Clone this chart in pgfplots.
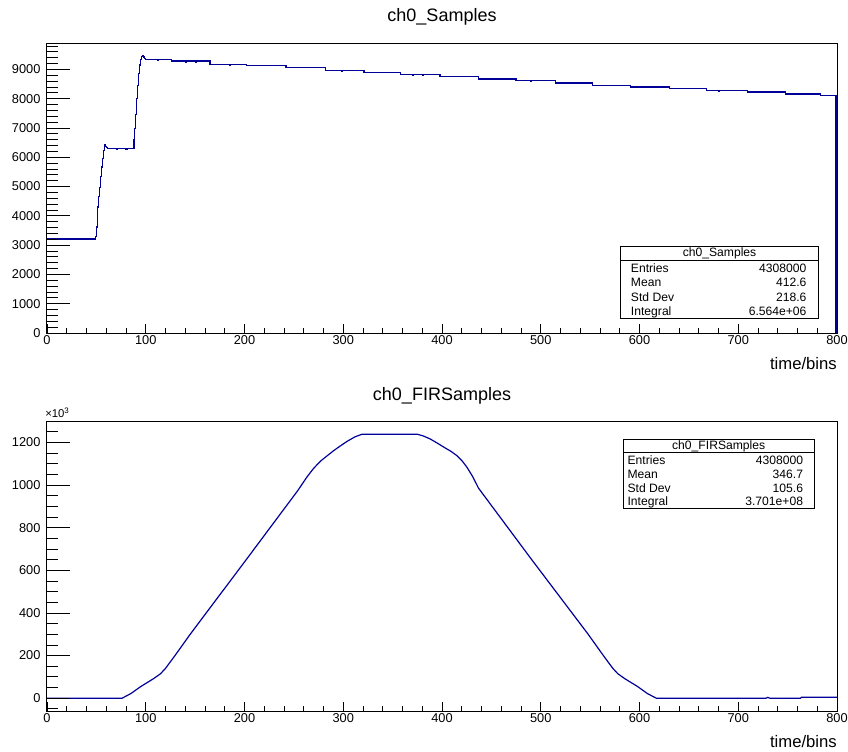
\documentclass[border=0pt]{standalone}
\usepackage{fontspec}
\setmainfont{Liberation Sans}
\usepackage{pgfplots}
\usepackage{pgfplotstable}
\pgfplotsset{compat=1.18}
\definecolor{histblue}{RGB}{0,0,153}

% ch0 raw samples: bin start, content (histogram steps)
\pgfplotstableread{
x y
0 3210
49 3300
50 3620
51 4300
52 4650
53 4980
54 5330
55 5670
56 5950
57 6230
58 6420
59 6380
60 6330
61 6300
70 6280
71 6300
80 6280
81 6300
88 6600
89 6970
90 7450
91 8000
92 8450
93 8850
94 9150
95 9330
96 9430
97 9480
98 9420
99 9360
100 9341
112 9320
113 9341
126 9283
140 9255
141 9283
150 9255
151 9283
165 9170
185 9150
186 9170
202 9126
242 9058
282 8966
298 8945
299 8966
321 8887
358 8819
370 8800
371 8819
380 8800
381 8819
398 8761
420 8745
421 8761
437 8670
475 8613
490 8595
491 8613
515 8533
530 8515
531 8533
552 8454
591 8396
600 8380
601 8396
630 8341
668 8283
680 8265
681 8283
709 8225
740 8210
741 8225
748 8157
783 8112
799 0
800 0
}\samplestable

% ch0 FIR-filtered samples (in units of 10^3)
\pgfplotstableread{
x y
0 0
76 0
85 22
95 55
101 72
108 92
115 115
120 140
128 190
135 235
145 300
200 639
254 974
263 1036
270 1078
277 1112
284 1138
290 1160
297 1183
304 1205
312 1226
319 1238
375 1238
381 1230
388 1216
395 1197
402 1177
409 1158
415 1138
420 1115
425 1085
431 1040
437 985
490 655
548 300
558 235
565 190
573 140
578 115
585 92
592 72
598 55
608 22
617 0
728 0
730 4
732 0
763 0
764 5
800 5
}\firtable

\pgfplotsset{
  rootaxis/.style={
    scale only axis, width=592.5pt, height=217.5pt,
    xmin=0, xmax=800,
    axis line style={black, line width=0.75pt},
    tick align=inside,
    tick pos=left,
    tick style={black, line width=0.6pt},
    /pgf/number format/assume math mode=true,
    /pgf/number format/set thousands separator={},
    scaled ticks=false,
    ticklabel style={font=\fontsize{9.6pt}{11pt}\selectfont},
  },
  % frame, x ticks and every tick label
  xtickpart/.style={
    axis on top,
    xtick={0,100,...,800},
    minor xtick={0,20,...,800},
    major tick length=6.75pt, minor tick length=3.4pt,
    ytick style={draw=none},
    xticklabel style={anchor=north, inner sep=0pt, yshift=-1.6pt},
    yticklabel style={anchor=east, inner sep=0pt, xshift=-4.7pt},
  },
  % longer y ticks on the left only
  ytickpart/.style={
    xmajorticks=false, xminorticks=false,
    xticklabels={}, yticklabels={},
    major tick length=17.5pt, minor tick length=8.5pt,
  },
}

\begin{document}
\begin{tikzpicture}
\begin{scope}[x=0.75pt, y=-0.75pt]
  \path[use as bounding box] (0,0) rectangle (848,751);
\end{scope}

% ---- upper pad: ch0_Samples ----
\begin{axis}[rootaxis, xtickpart, at={(35.25pt,-249.75pt)}, anchor=south west,
  ymin=0, ymax=9900, ytick={0,1000,...,9000}]
  \addplot[const plot, histblue, line width=0.9pt] table {\samplestable};
\end{axis}
\begin{axis}[rootaxis, ytickpart, at={(35.25pt,-249.75pt)}, anchor=south west,
  ymin=0, ymax=9900, ytick={0,1000,...,9000}, minor ytick={0,200,...,9800}]
\end{axis}

% ---- lower pad: ch0_FIRSamples ----
\begin{axis}[rootaxis, xtickpart, at={(35.25pt,-533.25pt)}, anchor=south west,
  ymin=-60, ymax=1300, ytick={0,200,...,1200}]
  \addplot[histblue, line width=0.9pt] table {\firtable};
\end{axis}
\begin{axis}[rootaxis, ytickpart, at={(35.25pt,-533.25pt)}, anchor=south west,
  ymin=-60, ymax=1300, ytick={0,200,...,1200}, minor ytick={-50,0,...,1250}]
\end{axis}

\begin{scope}[x=0.75pt, y=-0.75pt]
  % titles and axis labels
  \node[anchor=base, inner sep=0pt, font=\fontsize{13.5pt}{16pt}\selectfont] at (442,21) {ch0\_Samples};
  \node[anchor=base, inner sep=0pt, font=\fontsize{13.5pt}{16pt}\selectfont] at (442,400) {ch0\_FIRSamples};
  \node[anchor=base east, inner sep=0pt, font=\fontsize{12.5pt}{15pt}\selectfont] at (837,369) {time/bins};
  \node[anchor=base east, inner sep=0pt, font=\fontsize{12.5pt}{15pt}\selectfont] at (837,747) {time/bins};
  \node[anchor=base west, inner sep=0pt, font=\fontsize{8.5pt}{9pt}\selectfont] at (45,417) {×10\textsuperscript{3}};

  % statistics box, upper pad
  \draw[line width=0.75pt, fill=white] (620.7,246.7) rectangle (818.3,318.3);
  \draw[line width=0.75pt] (620.7,260.7) -- (818.3,260.7);
  \begin{scope}[every node/.style={inner sep=0pt, font=\fontsize{9.1pt}{11pt}\selectfont}]
    \node[anchor=base] at (719.5,256.5) {ch0\_Samples};
    \node[anchor=base west] at (630.7,272) {Entries};
    \node[anchor=base west] at (630.7,286.5) {Mean};
    \node[anchor=base west] at (630.7,301) {Std Dev};
    \node[anchor=base west] at (630.7,315) {Integral};
    \node[anchor=base east] at (806.7,272) {4308000};
    \node[anchor=base east] at (806.7,286.5) {412.6};
    \node[anchor=base east] at (806.7,301) {218.6};
    \node[anchor=base east] at (806.7,315) {6.564e+06};
  \end{scope}

  % statistics box, lower pad
  \draw[line width=0.75pt, fill=white] (623.3,439.3) rectangle (814,508.3);
  \draw[line width=0.75pt] (623.3,452.7) -- (814,452.7);
  \begin{scope}[every node/.style={inner sep=0pt, font=\fontsize{9.1pt}{11pt}\selectfont}]
    \node[anchor=base] at (718.7,449) {ch0\_FIRSamples};
    \node[anchor=base west] at (627.3,464.5) {Entries};
    \node[anchor=base west] at (627.3,478) {Mean};
    \node[anchor=base west] at (627.3,492) {Std Dev};
    \node[anchor=base west] at (627.3,505.5) {Integral};
    \node[anchor=base east] at (803.3,464.5) {4308000};
    \node[anchor=base east] at (803.3,478) {346.7};
    \node[anchor=base east] at (803.3,492) {105.6};
    \node[anchor=base east] at (803.3,505.5) {3.701e+08};
  \end{scope}
\end{scope}
\end{tikzpicture}
\end{document}
